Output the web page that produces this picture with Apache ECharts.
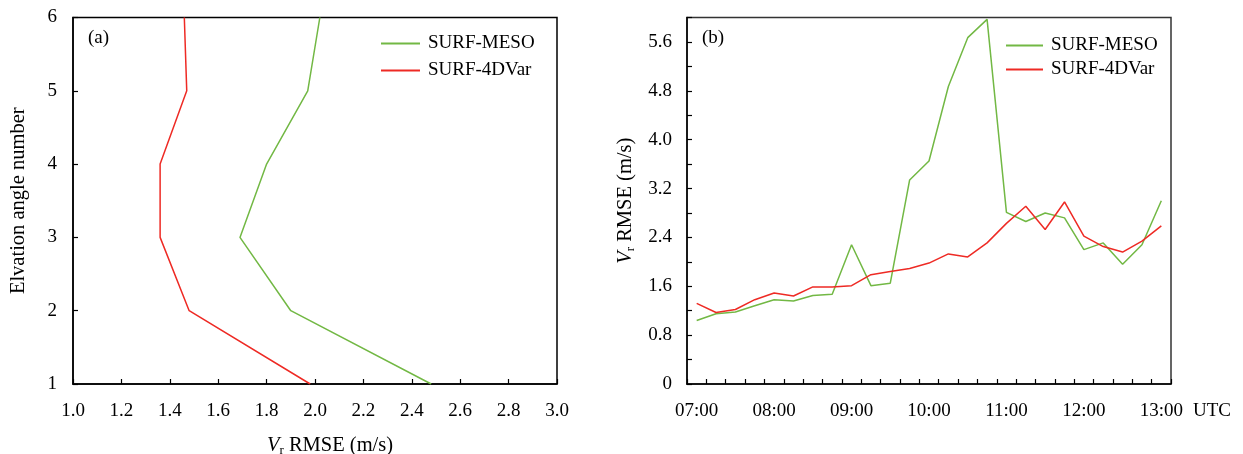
<!DOCTYPE html>
<html>
<head>
<meta charset="utf-8">
<script src="https://cdn.jsdelivr.net/npm/echarts@6/dist/echarts.min.js"></script>
<style>
  html, body { margin: 0; padding: 0; background: #fff; }
  #chart { width: 1243px; height: 454px; }
</style>
</head>
<body>
<div id="chart"></div>
<script>
// panel (a): RMSE per elevation angle
const elevations = [1, 2, 3, 4, 5, 6];
const mesoByElev = [2.48, 1.90, 1.69, 1.80, 1.97, 2.02];
const fdvarByElev = [1.98, 1.48, 1.36, 1.36, 1.47, 1.46];

// panel (b): RMSE every 15 minutes
const times = ['07:00', '07:15', '07:30', '07:45', '08:00', '08:15', '08:30', '08:45',
  '09:00', '09:15', '09:30', '09:45', '10:00', '10:15', '10:30', '10:45',
  '11:00', '11:15', '11:30', '11:45', '12:00', '12:15', '12:30', '12:45', '13:00'];
const mesoByTime = [1.04, 1.15, 1.18, 1.28, 1.38, 1.36, 1.45, 1.47, 2.28, 1.61, 1.65, 3.34, 3.65,
  4.87, 5.67, 5.97, 2.81, 2.66, 2.80, 2.72, 2.20, 2.31, 1.96, 2.28, 3.00];
const fdvarByTime = [1.32, 1.17, 1.22, 1.38, 1.49, 1.44, 1.59, 1.59, 1.61, 1.79, 1.84, 1.89, 1.98,
  2.13, 2.08, 2.31, 2.63, 2.91, 2.53, 2.98, 2.42, 2.25, 2.16, 2.34, 2.59];

const FONT = "'Liberation Serif', 'Times New Roman', serif";
const GREEN = '#72b844';
const RED = '#ee2a24';
const txt = { fontFamily: FONT, fontSize: 19, color: '#000' };
const big = { fontFamily: FONT, fontSize: 20.5, color: '#000' };
const axisLine = { show: true, lineStyle: { color: '#000', width: 1.5 } };
const tick = { show: true, inside: true, length: 5, lineStyle: { color: '#000', width: 1.2 } };
const vrRich = {
  i: { fontFamily: FONT, fontSize: 20.5, fontStyle: 'italic', color: '#000' },
  s: { fontFamily: FONT, fontSize: 13, color: '#000', verticalAlign: 'bottom', padding: [10, 0, 0, 0] }
};

const chart = echarts.init(document.getElementById('chart'));
chart.setOption({
  animation: false,
  title: [
    { text: '(a)', left: 88, top: 29, padding: 0, textStyle: { ...txt, fontWeight: 'normal' } },
    { text: '(b)', left: 702, top: 29, padding: 0, textStyle: { ...txt, fontWeight: 'normal' } }
  ],
  legend: [
    {
      orient: 'vertical', left: 381, top: 34, padding: 0, itemWidth: 39, itemHeight: 2, itemGap: 8,
      icon: 'rect', textStyle: { ...txt, padding: [0, 0, 0, 3] },
      data: ['SURF-MESO', 'SURF-4DVar']
    },
    {
      orient: 'vertical', left: 1006, top: 36, padding: 0, itemWidth: 37, itemHeight: 2, itemGap: 5,
      icon: 'rect', textStyle: { ...txt, padding: [0, 0, 0, 3] },
      data: ['SURF-MESO', 'SURF-4DVar']
    }
  ],
  grid: [
    { left: 73, right: 686, top: 17.5, bottom: 70, outerBoundsMode: 'none', show: true, borderColor: '#000', borderWidth: 1.5 },
    { left: 687, right: 72, top: 17.5, bottom: 70, outerBoundsMode: 'none', show: true, borderColor: '#333', borderWidth: 1.5 }
  ],
  xAxis: [
    {
      gridIndex: 0, type: 'value', min: 1, max: 3, interval: 0.2,
      axisLine, axisTick: tick, splitLine: { show: false },
      axisLabel: { ...txt, margin: 18, formatter: v => v.toFixed(1) },
      name: '{i|V}{s|r} RMSE (m/s)', nameLocation: 'middle', nameGap: 50,
      nameTextStyle: { ...big, rich: vrRich, padding: [0, 0, 0, 30] }
    },
    {
      gridIndex: 1, type: 'category', data: times, boundaryGap: true,
      axisLine, axisTick: { ...tick, interval: 0 }, splitLine: { show: false },
      axisLabel: { ...txt, margin: 18, interval: 3 },
      name: 'UTC', nameLocation: 'end', nameGap: 22,
      nameTextStyle: { ...txt, align: 'left', verticalAlign: 'top', padding: [18, 0, 0, 0] }
    }
  ],
  yAxis: [
    {
      gridIndex: 0, type: 'value', min: 1, max: 6, interval: 1,
      axisLine, axisTick: tick, splitLine: { show: false },
      axisLabel: { ...txt, margin: 16 },
      name: 'Elvation angle number', nameLocation: 'middle', nameGap: 44,
      nameTextStyle: big
    },
    {
      gridIndex: 1, type: 'value', min: 0, max: 6, interval: 0.4,
      axisLine, axisTick: tick, splitLine: { show: false },
      axisLabel: {
        ...txt, margin: 15,
        formatter: v => {
          const k = Math.round(v * 10);
          if (k % 8 !== 0) return '';
          return k === 0 ? '0' : (k / 10).toFixed(1);
        }
      },
      name: '{i|V}{s|r} RMSE (m/s)', nameLocation: 'middle', nameGap: 50,
      nameTextStyle: { ...big, rich: vrRich }
    }
  ],
  series: [
    {
      name: 'SURF-MESO', type: 'line', xAxisIndex: 0, yAxisIndex: 0, symbol: 'none',
      lineStyle: { color: GREEN, width: 1.5 }, itemStyle: { color: GREEN },
      data: elevations.map((e, i) => [mesoByElev[i], e])
    },
    {
      name: 'SURF-4DVar', type: 'line', xAxisIndex: 0, yAxisIndex: 0, symbol: 'none',
      lineStyle: { color: RED, width: 1.5 }, itemStyle: { color: RED },
      data: elevations.map((e, i) => [fdvarByElev[i], e])
    },
    {
      name: 'SURF-MESO', type: 'line', xAxisIndex: 1, yAxisIndex: 1, symbol: 'none',
      lineStyle: { color: GREEN, width: 1.5 }, itemStyle: { color: GREEN },
      data: mesoByTime
    },
    {
      name: 'SURF-4DVar', type: 'line', xAxisIndex: 1, yAxisIndex: 1, symbol: 'none',
      lineStyle: { color: RED, width: 1.5 }, itemStyle: { color: RED },
      data: fdvarByTime
    }
  ]
});
</script>
</body>
</html>
